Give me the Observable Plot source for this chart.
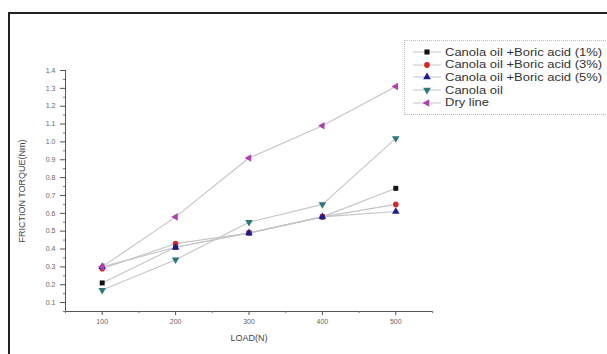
<!DOCTYPE html>
<html><head><meta charset="utf-8">
<script src="https://cdn.jsdelivr.net/npm/d3@7"></script>
<script src="https://cdn.jsdelivr.net/npm/@observablehq/plot@0.6"></script>
<style>
html,body{margin:0;padding:0;background:#fff;overflow:hidden;width:607px;height:354px;font-family:"Liberation Sans",Arial,sans-serif;}
#frame{position:absolute;left:8px;top:12px;width:700px;height:400px;border:2px solid #222;box-sizing:border-box;}
#chart{position:absolute;left:0;top:0;}
#legend{position:absolute;left:404px;top:40px;width:260px;height:75px;border:1px dotted #bbb;box-sizing:border-box;}
.item{position:absolute;left:6px;height:12px;display:flex;align-items:center;font-size:10px;color:#333;white-space:nowrap;}
.item svg{margin-right:4px;}
.item span{display:inline-block;transform:scaleX(1.3);transform-origin:left center;}
</style></head>
<body>
<div id="frame"></div>
<div id="chart"></div>
<div id="legend"></div>
<script>
const loads = [100, 200, 300, 400, 500];
const seriesNames = ["Canola oil +Boric acid (1%)", "Canola oil +Boric acid (3%)", "Canola oil +Boric acid (5%)", "Canola oil", "Dry line"];
const boric1 = [0.21, 0.41, 0.49, 0.58, 0.74];
const boric3 = [0.29, 0.43, 0.49, 0.58, 0.65];
const boric5 = [0.30, 0.41, 0.49, 0.58, 0.61];
const canola = [0.17, 0.34, 0.55, 0.65, 1.02];
const dry = [0.30, 0.58, 0.91, 1.09, 1.31];
const colors = ["#111111", "#d42a2a", "#1c1c9a", "#2a7878", "#b040b0"];
const symbols = ["square", "circle", "triangle", "triangle", "triangle"];
const rotations = [0, 0, 0, 180, -90];
const xTicks = [100, 200, 300, 400, 500];
const xMinor = [50, 150, 250, 350, 450, 550];
const yTicks = [0.1,0.2,0.3,0.4,0.5,0.6,0.7,0.8,0.9,1.0,1.1,1.2,1.3,1.4];
const yMinor = [0.05,0.15,0.25,0.35,0.45,0.55,0.65,0.75,0.85,0.95,1.05,1.15,1.25,1.35];

const allSeries = [boric1, boric3, boric5, canola, dry];
const rows = [];
allSeries.forEach((vals, i) => vals.forEach((v, j) => rows.push({x: loads[j], y: v, s: i})));

const chart = Plot.plot({
  width: 607, height: 354,
  marginLeft: 65, marginRight: 175, marginTop: 70, marginBottom: 43,
  style: {fontFamily: "Liberation Sans, Arial, sans-serif", background: "transparent"},
  x: {domain: [50, 550]},
  y: {domain: [0.05, 1.4]},
  marks: [
    Plot.ruleY([0.05], {stroke: "#555", strokeWidth: 1}),
    Plot.ruleX([50], {stroke: "#555", strokeWidth: 1}),
    Plot.axisX({ticks: xTicks, tickSize: 4, stroke: "#555", fill: "#666", fontSize: 7, tickPadding: 4,
      label: "LOAD(N)", labelAnchor: "center", labelArrow: "none", labelOffset: 29}),
    Plot.axisX({ticks: xMinor, tickSize: 2, stroke: "#777", text: null, label: null}),
    Plot.axisY({ticks: yTicks, tickSize: 5, stroke: "#555", fill: "#666", fontSize: 7, tickPadding: 5,
      tickFormat: d3.format(".1f"),
      label: "FRICTION TORQUE(Nm)", labelAnchor: "center", labelArrow: "none", labelOffset: 47}),
    Plot.axisY({ticks: yMinor, tickSize: 2, stroke: "#777", text: null, label: null}),
    Plot.line(rows, {x: "x", y: "y", z: "s", stroke: "#c4c4c4", strokeWidth: 1.1}),
    Plot.dot(rows, {x: "x", y: "y",
      symbol: d => symbols[d.s], rotate: d => rotations[d.s],
      fill: d => colors[d.s], r: 2.8, stroke: null})
  ]
});
d3.select(chart).selectAll("g[aria-label='x-axis label']").attr("font-size", 9).attr("fill", "#444");
d3.select(chart).selectAll("g[aria-label='y-axis label']").attr("font-size", 9).attr("fill", "#444");
document.getElementById("chart").appendChild(chart);

// legend
const leg = d3.select("#legend");
const sym = (i) => {
  const t = symbols[i] === "square" ? d3.symbolSquare : symbols[i] === "circle" ? d3.symbolCircle : d3.symbolTriangle;
  return d3.symbol(t, 26)();
};
seriesNames.forEach((name, i) => {
  const item = leg.append("div").attr("class", "item").style("top", (5 + i * 12.7) + "px");
  const svg = item.append("svg").attr("width", 30).attr("height", 10);
  svg.append("line").attr("x1", 2).attr("x2", 30).attr("y1", 5).attr("y2", 5).attr("stroke", "#c4c4c4");
  svg.append("path").attr("d", sym(i)).attr("fill", colors[i])
    .attr("transform", `translate(16,5) rotate(${rotations[i]})`);
  item.append("span").text(name);
});
</script>
</body></html>
